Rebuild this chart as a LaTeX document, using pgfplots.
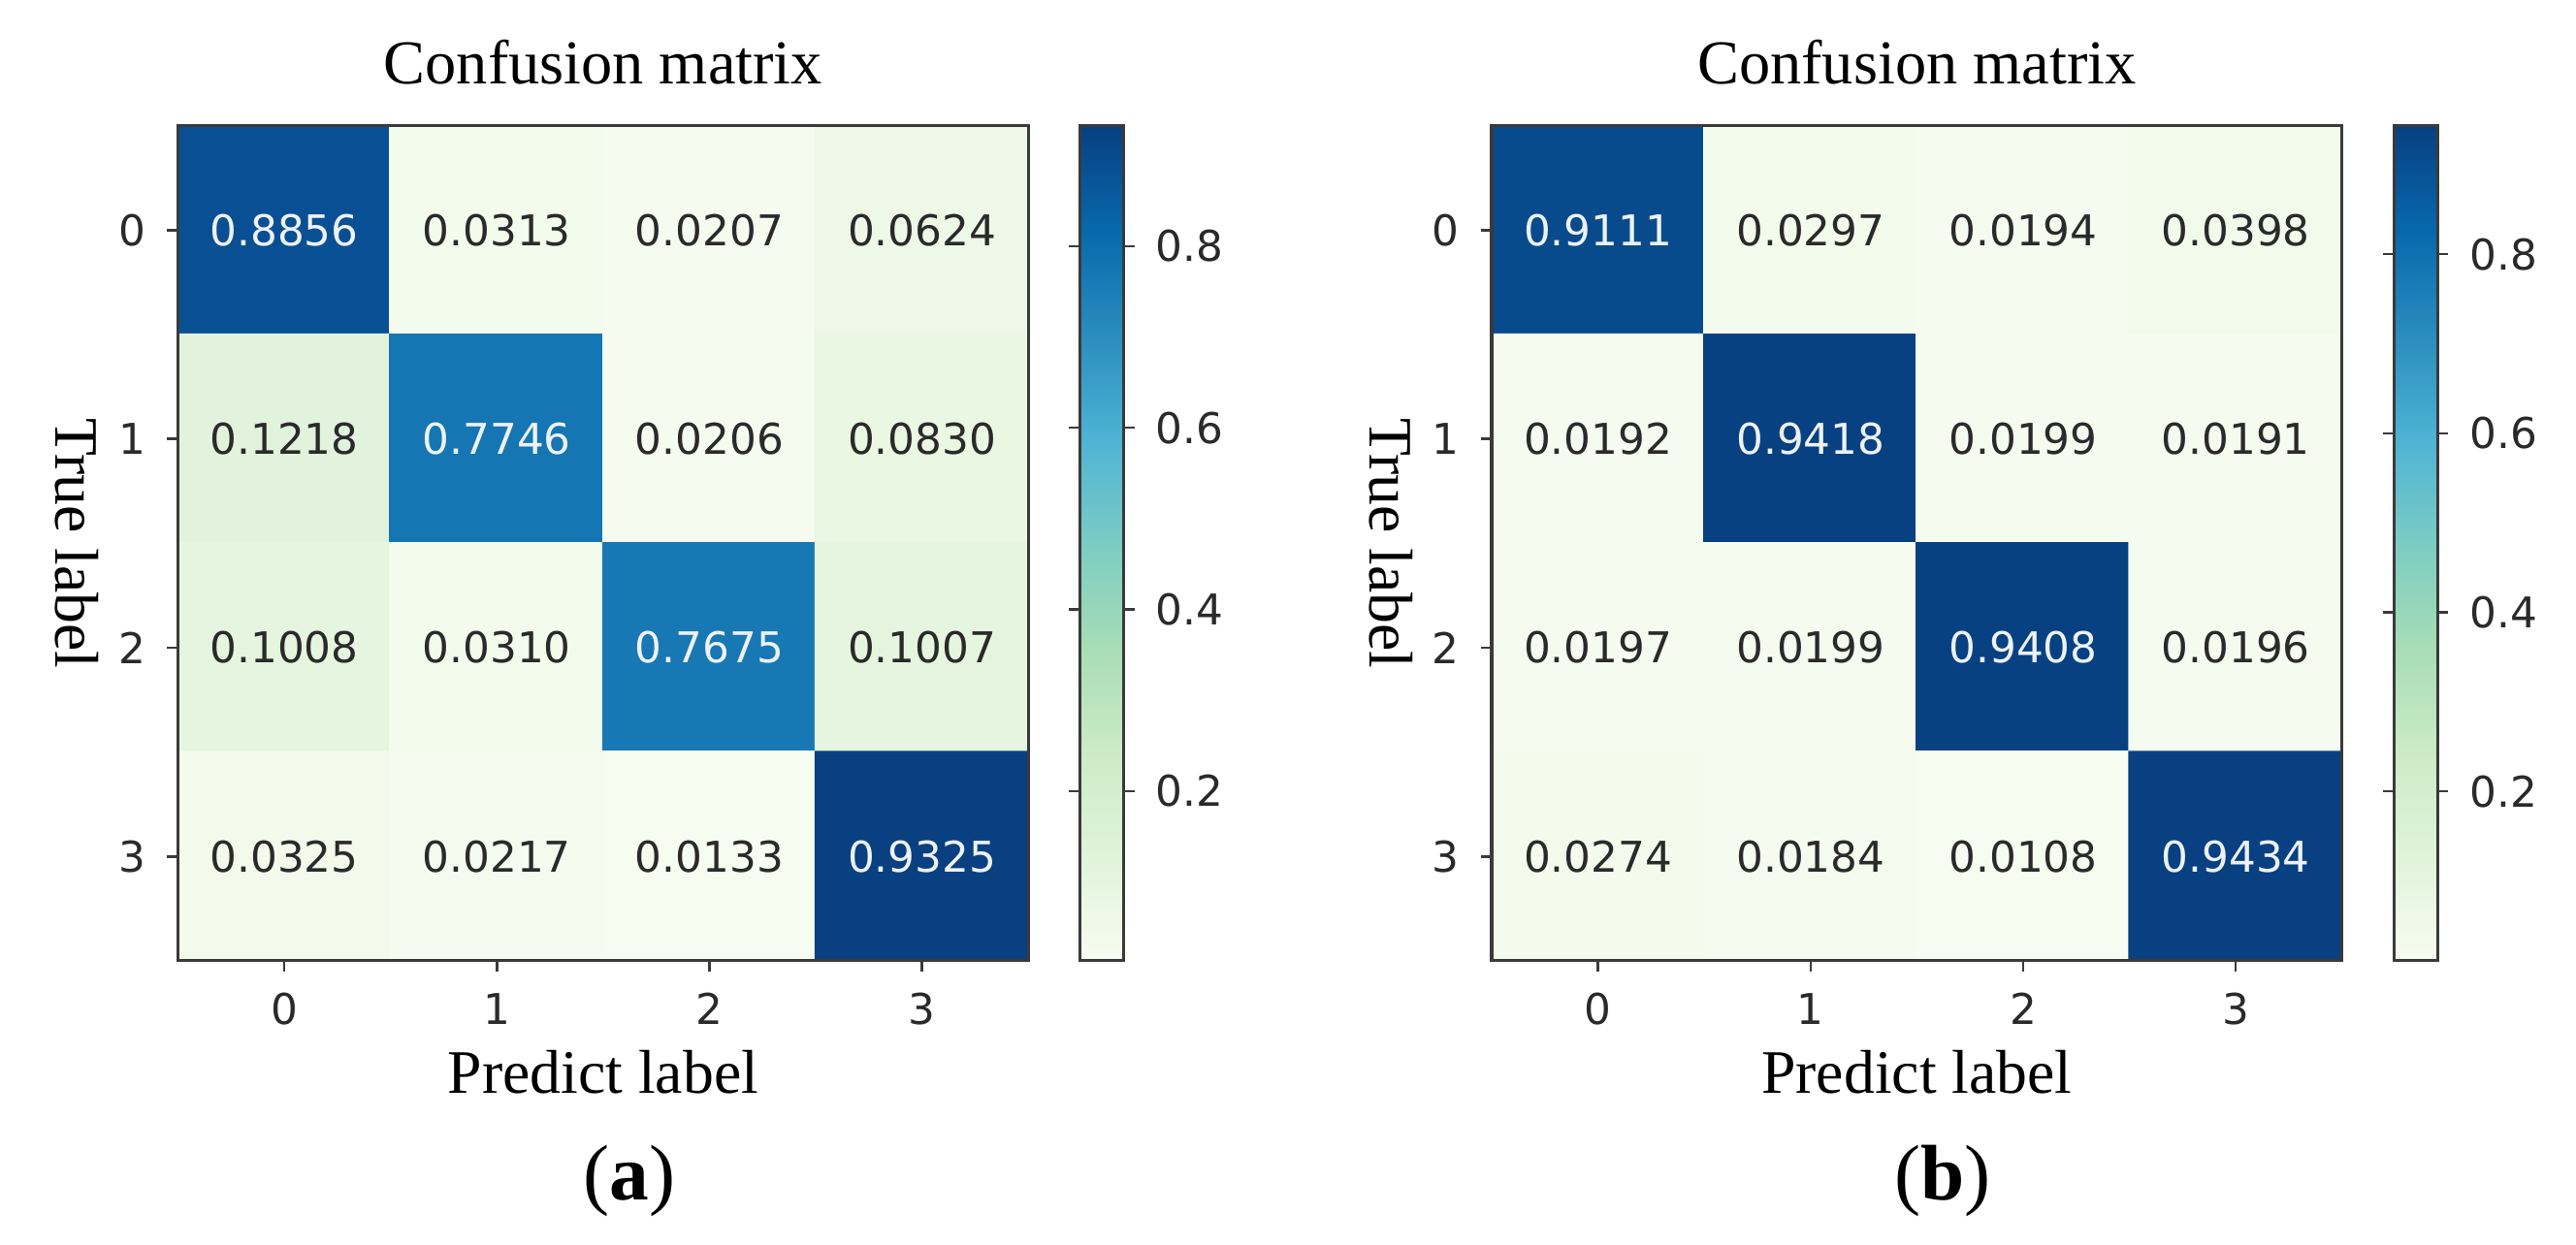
\documentclass[border=0pt]{standalone}
\usepackage{fontspec}
\setmainfont{Liberation Serif}
\newfontfamily\dejavu{DejaVu Sans}
\usepackage{pgfplots}
\pgfplotsset{compat=1.18}

\definecolor{txtdark}{HTML}{2A2A2A}
\definecolor{txtlight}{HTML}{EEF2F6}
\definecolor{spine}{HTML}{3A3A3A}

\newcommand\numfont{\dejavu\fontsize{7}{8}\selectfont}

\pgfplotsset{
  colormap={gnbu}{rgb255=(247,252,240) rgb255=(224,243,219) rgb255=(204,235,197)
    rgb255=(168,221,181) rgb255=(123,204,196) rgb255=(78,179,211)
    rgb255=(43,140,190) rgb255=(8,104,172) rgb255=(8,64,129)},
  confmat/.style={
    scale only axis, width=140.3pt, height=137.8pt,
    anchor=south west,
    xmin=-0.5, xmax=3.5, ymin=-0.5, ymax=3.5, y dir=reverse,
    enlargelimits=false,
    xtick={0,1,2,3}, ytick={0,1,2,3},
    tick pos=left, tick align=outside, major tick length=1.8pt,
    tick style={spine, line width=0.4pt},
    axis line style={spine, line width=0.5pt},
    ticklabel style={font=\numfont, text=txtdark},
    /pgf/number format/assume math mode=true,
    axis on top,
    colormap name=gnbu,
    every axis title/.style={at={(0.5,1)}, anchor=base, yshift=6.9pt,
      font=\fontsize{10.3}{12}\selectfont},
    every axis x label/.style={at={(0.5,0)}, anchor=base, yshift=-21.8pt,
      font=\fontsize{10.2}{12}\selectfont},
    every axis y label/.style={at={(0,0.5)}, xshift=-16.6pt, rotate=-90,
      anchor=center, font=\fontsize{10.2}{12}\selectfont},
    title={Confusion matrix}, xlabel={Predict label}, ylabel={True label},
    colorbar,
    colorbar style={
      at={([xshift=10.2pt]parent axis.north east)}, anchor=north west,
      width=7.2pt,
      ytick={0.2,0.4,0.6,0.8},
      tick align=outside, major tick length=1.8pt,
      tick style={spine, line width=0.4pt},
      axis line style={spine, line width=0.5pt},
      yticklabel style={font=\numfont, text=txtdark,
        /pgf/number format/fixed, /pgf/number format/precision=1,
        /pgf/number format/assume math mode=true},
    },
  },
  celltext/.style={
    only marks, mark=none, point meta=explicit symbolic,
    nodes near coords, nodes near coords align=center,
    every node near coord/.append style={anchor=center, font=\numfont, text=#1},
  },
}

\begin{document}
\begin{tikzpicture}
\useasboundingbox (0,0) rectangle (425pt,205.44pt);

% (a)
\begin{axis}[confmat, name=cmA, at={(29.36pt,46.88pt)}]
  \addplot[matrix plot*, mesh/cols=4, point meta=explicit] table[meta index=2] {
x y c
0 0 0.8856
1 0 0.0313
2 0 0.0207
3 0 0.0624
0 1 0.1218
1 1 0.7746
2 1 0.0206
3 1 0.0830
0 2 0.1008
1 2 0.0310
2 2 0.7675
3 2 0.1007
0 3 0.0325
1 3 0.0217
2 3 0.0133
3 3 0.9325
};
  \addplot[celltext=txtlight] table[meta index=2] {
x y t
0 0 0.8856
1 1 0.7746
2 2 0.7675
3 3 0.9325
};
  \addplot[celltext=txtdark] table[meta index=2] {
x y t
1 0 0.0313
2 0 0.0207
3 0 0.0624
0 1 0.1218
2 1 0.0206
3 1 0.0830
0 2 0.1008
1 2 0.0310
3 2 0.1007
0 3 0.0325
1 3 0.0217
2 3 0.0133
};
\end{axis}
\node[anchor=base, font=\fontsize{13}{15}\selectfont]
  at ([xshift=4.3pt, yshift=-39.5pt]cmA.south) {(\textbf{a})};

% (b)
\begin{axis}[confmat, name=cmB, at={(246.1pt,46.88pt)}]
  \addplot[matrix plot*, mesh/cols=4, point meta=explicit] table[meta index=2] {
x y c
0 0 0.9111
1 0 0.0297
2 0 0.0194
3 0 0.0398
0 1 0.0192
1 1 0.9418
2 1 0.0199
3 1 0.0191
0 2 0.0197
1 2 0.0199
2 2 0.9408
3 2 0.0196
0 3 0.0274
1 3 0.0184
2 3 0.0108
3 3 0.9434
};
  \addplot[celltext=txtlight] table[meta index=2] {
x y t
0 0 0.9111
1 1 0.9418
2 2 0.9408
3 3 0.9434
};
  \addplot[celltext=txtdark] table[meta index=2] {
x y t
1 0 0.0297
2 0 0.0194
3 0 0.0398
0 1 0.0192
2 1 0.0199
3 1 0.0191
0 2 0.0197
1 2 0.0199
3 2 0.0196
0 3 0.0274
1 3 0.0184
2 3 0.0108
};
\end{axis}
\node[anchor=base, font=\fontsize{13}{15}\selectfont]
  at ([xshift=4.3pt, yshift=-39.5pt]cmB.south) {(\textbf{b})};
\end{tikzpicture}
\end{document}
